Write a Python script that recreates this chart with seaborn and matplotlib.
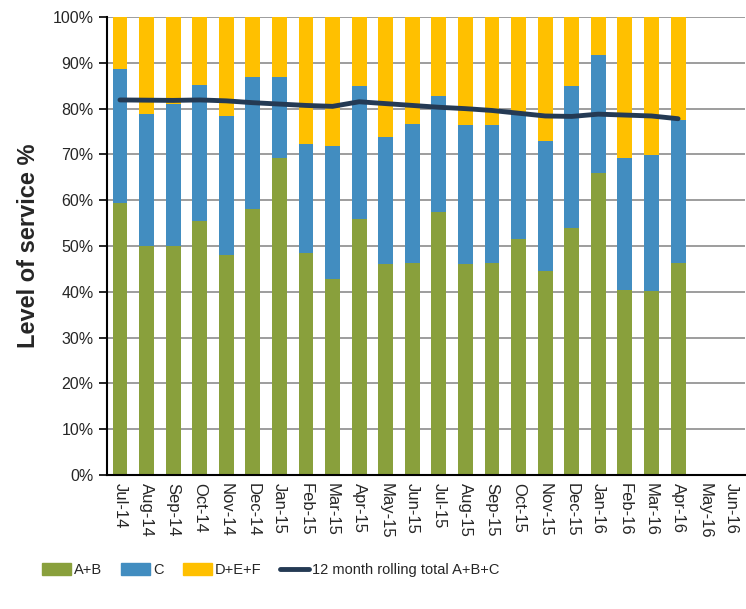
import numpy as np
import pandas as pd
import matplotlib
matplotlib.use("Agg")
import matplotlib.pyplot as plt
from matplotlib import font_manager
from matplotlib.patches import Patch
from matplotlib.lines import Line2D
import seaborn as sns

months = ["Jul-14", "Aug-14", "Sep-14", "Oct-14", "Nov-14", "Dec-14", "Jan-15", "Feb-15",
          "Mar-15", "Apr-15", "May-15", "Jun-15", "Jul-15", "Aug-15", "Sep-15", "Oct-15",
          "Nov-15", "Dec-15", "Jan-16", "Feb-16", "Mar-16", "Apr-16", "May-16", "Jun-16"]
ab = [59.5, 50.1, 49.9, 55.5, 48.0, 58.0, 69.2, 48.5, 42.9, 56.0, 46.0, 46.4,
      57.4, 46.0, 46.2, 51.5, 44.5, 54.0, 66.0, 40.5, 40.2, 46.4, np.nan, np.nan]
c = [29.1, 28.7, 31.1, 29.6, 30.4, 28.9, 17.8, 23.7, 29.0, 28.9, 27.9, 30.3,
     25.4, 30.5, 30.3, 27.5, 28.5, 30.9, 25.8, 28.7, 29.7, 31.2, np.nan, np.nan]
rolling = [81.9, 81.85, 81.8, 81.9, 81.7, 81.3, 81.0, 80.7, 80.5, 81.5, 81.1, 80.7,
           80.3, 80.0, 79.6, 79.0, 78.4, 78.3, 78.8, 78.6, 78.4, 77.8]

ab_a = np.array(ab)
c_a = np.array(c)
def_a = 100 - ab_a - c_a

df = pd.DataFrame({"month": months, "ab": ab_a, "c": c_a, "def": def_a,
                   "abc": ab_a + c_a}).dropna().reset_index(drop=True)

green = "#89A03C"
blue = "#428DC0"
yellow = "#FFC000"
navy = "#243A54"

sns.set_style("white")
plt.rcParams['font.family'] = ['Liberation Sans', 'DejaVu Sans']

installed = {f.name for f in font_manager.fontManager.ttflist}
if "Liberation Sans Narrow" in installed:
    leg_font = {"family": "Liberation Sans Narrow", "size": 12.5}
else:
    leg_font = {"family": "Liberation Sans", "size": 10.5}

fig = plt.figure(figsize=(7.46, 6.09), dpi=100)
ax = fig.add_axes([0.143, 0.22, 0.855, 0.752])

w = 0.56
sns.barplot(data=df, x="month", y="ab", color=green, width=w, ax=ax,
            saturation=1, order=months, edgecolor="none", zorder=2)
sns.barplot(data=df, x="month", y="c", bottom=df["ab"].values, color=blue, width=w, ax=ax,
            saturation=1, order=months, edgecolor="none", zorder=2)
sns.barplot(data=df, x="month", y="def", bottom=df["abc"].values, color=yellow, width=w, ax=ax,
            saturation=1, order=months, edgecolor="none", zorder=2)

line_df = pd.DataFrame({"pos": np.arange(len(rolling)), "val": rolling})
sns.lineplot(data=line_df, x="pos", y="val", color=navy, linewidth=3.5, ax=ax,
             zorder=4, solid_capstyle="round")

ax.set_xlim(-0.5, len(months) - 0.5)
ax.set_ylim(0, 100)
ax.set_yticks(np.arange(0, 101, 10))
ax.set_yticklabels([f"{v}%" for v in range(0, 101, 10)], fontsize=11.5)
ax.yaxis.grid(True, color="#8c8c8c", linewidth=1.2, zorder=0)
ax.set_axisbelow(True)

ax.set_xticks(np.arange(len(months)))
ax.set_xticklabels(months, rotation=270, fontsize=12, va="top", ha="center")
ax.tick_params(axis="x", which="major", length=0, pad=6)
ax.set_xticks(np.arange(-0.5, len(months), 1), minor=True)
ax.tick_params(axis="x", which="minor", length=6, width=1.2, color="black", direction="out")
ax.tick_params(axis="y", length=6, width=1.2, color="black", direction="out", left=True)

ax.set_xlabel("")
ax.set_ylabel("Level of service %", fontsize=17, fontweight="bold", labelpad=9)

for s in ["top", "right"]:
    ax.spines[s].set_visible(False)
for s in ["left", "bottom"]:
    ax.spines[s].set_color("black")
    ax.spines[s].set_linewidth(1.5)

handles = [Patch(color=green, label="A+B"), Patch(color=blue, label="C"),
           Patch(color=yellow, label="D+E+F"),
           Line2D([0], [0], color=navy, linewidth=3.5, solid_capstyle="round",
                  label="12 month rolling total A+B+C")]
fig.legend(handles=handles, loc="center", bbox_to_anchor=(0.363, 0.064), ncol=4,
           frameon=False, prop=leg_font, handlelength=2.0, handleheight=0.9,
           columnspacing=1.3, handletextpad=0.2)

fig.savefig("out.png", dpi=100)
